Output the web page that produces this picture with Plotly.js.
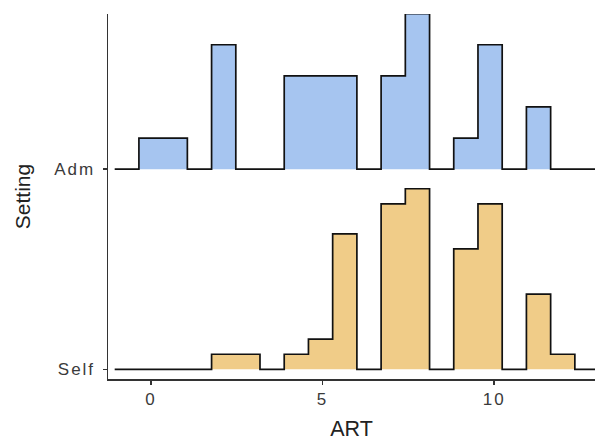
<!DOCTYPE html>
<html>
<head>
<meta charset="utf-8">
<script src="https://cdn.plot.ly/plotly-3.0.1.min.js"></script>
<style>
html,body{margin:0;padding:0;background:#fff;}
#chart{width:595px;height:441px;}
.xtick text, .ytick text { letter-spacing: 2px; }
</style>
</head>
<body>
<div id="chart"></div>
<script>
// Histogram bin centres for ART (18 bins over 0..12)
const artBins = [0, 0.706, 1.412, 2.118, 2.824, 3.529, 4.235, 4.941, 5.647, 6.353, 7.059, 7.765, 8.471, 9.176, 9.882, 10.588, 11.294, 12];
const binWidth = 0.706;
// Counts per bin for each Setting
const admCounts  = [1, 1, 0, 4, 0, 0, 3, 3, 3, 0, 3, 5, 0, 1, 4, 0, 2, 0];
const selfCounts = [0, 0, 0, 1, 1, 0, 1, 2, 9, 0, 11, 12, 0, 8, 11, 0, 5, 1];
const settings = ['Self', 'Adm'];
const baselines = [1, 2];
const fillColors = ['#f0cc88', '#a6c5f0'];
const ridgeScale = 4.66;

function ridge(counts, base, fill) {
  const n = counts.reduce((a, b) => a + b, 0);
  const xs = [artBins[0] - 1.5 * binWidth];
  const ys = [base];
  artBins.forEach((c, i) => { xs.push(c - binWidth / 2); ys.push(base + ridgeScale * counts[i] / n); });
  const last = artBins[artBins.length - 1];
  xs.push(last + binWidth / 2); ys.push(base);
  xs.push(last + 1.5 * binWidth); ys.push(base);
  return [
    {x: xs, y: xs.map(() => base), type: 'scatter', mode: 'lines', line: {width: 0, color: 'rgba(0,0,0,0)'}, showlegend: false, hoverinfo: 'skip'},
    {x: xs, y: ys, type: 'scatter', mode: 'lines', line: {shape: 'hv', color: '#111', width: 1.7}, fill: 'tonexty', fillcolor: fill, showlegend: false}
  ];
}

const data = [
  ...ridge(admCounts, baselines[1], fillColors[1]),
  ...ridge(selfCounts, baselines[0], fillColors[0])
];

const font = {family: 'Liberation Sans, Arial, sans-serif'};
const layout = {
  width: 595, height: 441,
  margin: {l: 108, r: 0, t: 14, b: 62},
  paper_bgcolor: '#fff', plot_bgcolor: '#fff',
  font: font,
  xaxis: {
    range: [-1.254, 12.94], tickvals: [0, 5, 10], ticktext: ['0', '5', '10'],
    showline: true, linecolor: '#333', linewidth: 1.5,
    ticks: 'outside', ticklen: 4, tickwidth: 1.4, tickcolor: '#333',
    showgrid: false, zeroline: false,
    tickfont: {size: 17, color: '#3a3a3a', family: font.family},
    ticklabelstandoff: 0,
    title: {text: 'ART', font: {size: 21.5, color: '#222', family: font.family}, standoff: 13}
  },
  yaxis: {
    range: [0.9515, 2.775], tickvals: baselines, ticktext: settings,
    showline: true, linecolor: '#333', linewidth: 1.5,
    ticks: 'outside', ticklen: 4, tickwidth: 1.4, tickcolor: '#333',
    showgrid: false, zeroline: false,
    tickfont: {size: 17, color: '#3a3a3a', family: font.family},
    ticklabelstandoff: 4,
    title: {text: 'Setting', font: {size: 21, color: '#222', family: font.family}, standoff: 18}
  }
};

Plotly.newPlot('chart', data, layout, {displayModeBar: false, staticPlot: true});
</script>
</body>
</html>
